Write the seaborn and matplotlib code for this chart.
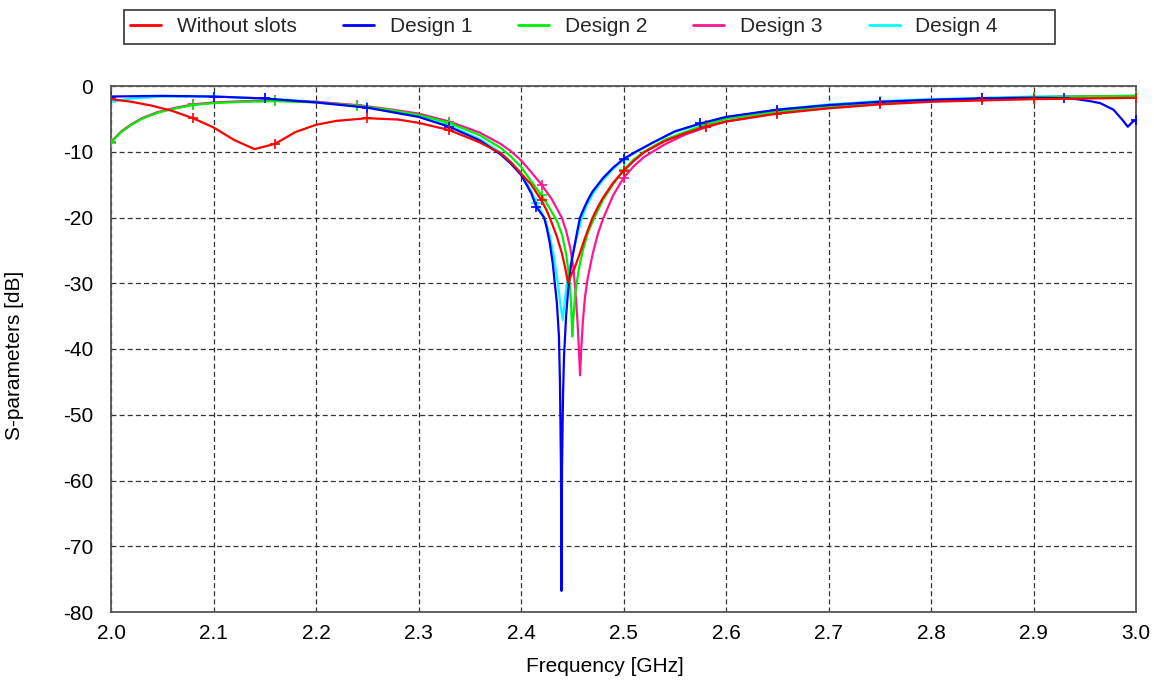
import numpy as np
import pandas as pd
import matplotlib
matplotlib.use("Agg")
import matplotlib.pyplot as plt
from matplotlib.patches import Rectangle
from matplotlib.lines import Line2D
import seaborn as sns

# ---------------- data ----------------
labels = ["Without slots", "Design 1", "Design 2", "Design 3", "Design 4"]
colors = ["#ff0000", "#0000ff", "#00ee00", "#ff1493", "#00ffff"]

freq_red = [2.00, 2.02, 2.04, 2.06, 2.08, 2.10, 2.12, 2.14, 2.16, 2.18, 2.20, 2.22, 2.25,
            2.28, 2.30, 2.33, 2.36, 2.38, 2.39, 2.40, 2.41, 2.42, 2.425, 2.43, 2.435,
            2.44, 2.443, 2.446, 2.449, 2.452, 2.455, 2.458, 2.462, 2.466, 2.47, 2.475,
            2.48, 2.49, 2.50, 2.51, 2.52, 2.54, 2.56, 2.58, 2.60, 2.65, 2.70,
            2.75, 2.80, 2.85, 2.90, 2.95, 3.00]
s_red = [-2.0, -2.4, -3.0, -3.8, -4.9, -6.3, -8.2, -9.6, -8.8, -7.0, -5.9, -5.3, -4.9,
         -5.1, -5.6, -6.7, -8.6, -10.2, -11.6, -13.3, -15.0, -17.4, -18.9, -20.8, -22.9,
         -25.5, -27.6, -30.0, -28.7, -27.8, -26.5, -25.2, -23.3, -21.6, -20.0, -18.4,
         -17.0, -14.7, -12.9, -11.4, -10.1, -8.4, -7.2, -6.2, -5.4, -4.2, -3.4,
         -2.8, -2.4, -2.2, -2.0, -1.9, -1.8]

freq_d1 = [2.00, 2.05, 2.10, 2.15, 2.20, 2.25, 2.30, 2.33, 2.36, 2.38, 2.39, 2.40, 2.41,
           2.415, 2.4225, 2.425, 2.428, 2.431, 2.433, 2.435, 2.437, 2.438, 2.439,
           2.4395, 2.440, 2.441, 2.442, 2.444, 2.446, 2.449, 2.452, 2.455, 2.4576,
           2.462, 2.466, 2.47, 2.48, 2.49, 2.50, 2.512, 2.53, 2.55, 2.575, 2.60, 2.65,
           2.70, 2.75, 2.80, 2.85, 2.90, 2.93, 2.942, 2.955, 2.965, 2.978, 2.987,
           2.992, 2.997, 3.00]
s_d1 = [-1.6, -1.5, -1.6, -1.9, -2.5, -3.3, -4.7, -6.2, -8.3, -10.4, -11.8, -13.5, -16.3,
        -18.4, -20.0, -21.5, -23.8, -27.0, -30.0, -33.0, -38.0, -45.0, -58.0,
        -76.8, -58.0, -47.0, -41.0, -35.0, -31.0, -27.0, -24.5, -22.0, -20.0,
        -18.4, -17.1, -16.0, -14.0, -12.4, -11.1, -10.0, -8.5, -6.9, -5.7, -4.7, -3.6,
        -2.9, -2.4, -2.1, -1.9, -1.8, -1.85, -2.0, -2.3, -2.6, -3.6, -5.2,
        -6.2, -5.4, -5.2]

freq_d2 = [2.00, 2.01, 2.02, 2.03, 2.045, 2.06, 2.08, 2.10, 2.13, 2.16, 2.20, 2.24,
           2.27, 2.30, 2.33, 2.36, 2.38, 2.39, 2.40, 2.41, 2.42, 2.428, 2.435, 2.44,
           2.444, 2.447, 2.449, 2.450, 2.451, 2.453, 2.456, 2.46, 2.465, 2.4715, 2.48,
           2.49, 2.50, 2.51, 2.52, 2.54, 2.56, 2.58, 2.60, 2.65, 2.70, 2.75, 2.80,
           2.85, 2.90, 2.95, 3.00]
s_d2 = [-8.6, -7.0, -5.9, -5.0, -4.1, -3.5, -2.9, -2.6, -2.4, -2.3, -2.5, -3.0,
        -3.6, -4.4, -5.6, -7.5, -9.4, -10.7, -12.3, -14.5, -16.6, -18.6, -20.5, -22.6,
        -25.5, -29.0, -33.5, -38.1, -35.5, -31.5, -28.2, -25.2, -22.4, -20.0, -17.3,
        -14.9, -12.8, -11.2, -10.0, -8.2, -7.0, -5.9, -5.0, -3.9, -3.1, -2.5, -2.1,
        -1.9, -1.7, -1.6, -1.5]

freq_d3 = [2.00, 2.01, 2.02, 2.03, 2.045, 2.06, 2.08, 2.10, 2.13, 2.16, 2.20, 2.24,
           2.27, 2.30, 2.33, 2.36, 2.38, 2.39, 2.40, 2.41, 2.42, 2.43, 2.4397, 2.444,
           2.448, 2.451, 2.453, 2.455, 2.4565, 2.4576, 2.4588, 2.4605, 2.4625, 2.465,
           2.47, 2.475, 2.48, 2.49, 2.50, 2.51, 2.52, 2.54, 2.56, 2.58, 2.60, 2.65,
           2.70, 2.75, 2.80, 2.85, 2.90, 2.95, 3.00]
s_d3 = [-8.5, -6.9, -5.8, -4.9, -4.0, -3.4, -2.8, -2.5, -2.3, -2.2, -2.4, -2.9,
        -3.5, -4.2, -5.4, -7.1, -8.8, -9.9, -11.3, -13.1, -15.0, -17.2, -20.0, -22.0,
        -24.6, -27.5, -31.0, -35.5, -40.0, -44.0, -40.0, -35.5, -32.0, -29.3,
        -25.5, -22.5, -20.2, -16.6, -14.0, -12.2, -10.8, -8.9, -7.4, -6.3, -5.4, -4.1,
        -3.2, -2.6, -2.2, -1.9, -1.7, -1.6, -1.5]

freq_d4 = [2.00, 2.02, 2.05, 2.10, 2.15, 2.20, 2.25, 2.30, 2.33, 2.36, 2.38, 2.39,
           2.40, 2.41, 2.415, 2.42, 2.424, 2.428, 2.432, 2.436, 2.4385, 2.4407,
           2.4425, 2.4445, 2.447, 2.451, 2.455, 2.459, 2.464, 2.47, 2.48, 2.49, 2.50,
           2.515, 2.53, 2.55, 2.575, 2.60, 2.65, 2.70, 2.75, 2.80, 2.85, 2.90, 2.95,
           3.00]
s_d4 = [-2.4, -1.9, -1.6, -1.6, -1.9, -2.4, -3.2, -4.6, -6.0, -8.1, -10.1, -11.5,
        -13.2, -16.0, -17.8, -19.2, -20.5, -22.8, -25.8, -30.0, -33.3, -35.6,
        -33.0, -30.3, -28.0, -25.2, -22.6, -20.3, -18.2, -16.4, -14.3, -12.6, -11.2,
        -9.8, -8.5, -7.0, -5.8, -4.8, -3.6, -2.8, -2.3, -2.0, -1.8, -1.6, -1.55,
        -1.5]

x_ticks = [2.0, 2.1, 2.2, 2.3, 2.4, 2.5, 2.6, 2.7, 2.8, 2.9, 3.0]
y_ticks = [0, -10, -20, -30, -40, -50, -60, -70, -80]
x_label = "Frequency [GHz]"
y_label = "S-parameters [dB]"

series = [(freq_red, s_red), (freq_d1, s_d1), (freq_d2, s_d2), (freq_d3, s_d3), (freq_d4, s_d4)]

# ---------------- styling ----------------
sns.set_theme(style="white")
plt.rcParams["font.family"] = ["Liberation Sans", "DejaVu Sans"]
plt.rcParams["axes.unicode_minus"] = False

W, H = 1154, 691
fig = plt.figure(figsize=(W / 100, H / 100), dpi=100)
L, R, T, B = 111, 1136, 86, 612
ax = fig.add_axes([L / W, 1 - B / H, (R - L) / W, (B - T) / H])

frames = []
for lab, (f, s) in zip(labels, series):
    frames.append(pd.DataFrame({"f": f, "s": s, "label": lab}))
df = pd.concat(frames, ignore_index=True)

draw_order = [4, 3, 2, 1, 0]  # cyan bottom ... red on top
zorders = {4: 2, 3: 3, 2: 4, 1: 5, 0: 6}
for i in draw_order:
    sub = df[df["label"] == labels[i]]
    fr = np.asarray(sub["f"])
    marks = sorted({int(np.argmin(np.abs(fr - m))) for m in np.arange(2.0, 3.0001, 1 / 12)})
    sns.lineplot(data=sub, x="f", y="s", ax=ax, color=colors[i], lw=1.6,
                 estimator=None, sort=False, zorder=zorders[i],
                 marker="+", markevery=marks, markersize=7, markeredgewidth=1.2,
                 markeredgecolor=colors[i])

ax.set_xlim(2.0, 3.0)
ax.set_ylim(-80, 0)
ax.set_xticks(x_ticks)
ax.set_xticklabels([f"{v:.1f}" for v in x_ticks])
ax.set_yticks(y_ticks)
ax.set_yticklabels([str(v) for v in y_ticks])
ax.tick_params(axis="both", length=0, labelsize=15, colors="black")
ax.tick_params(axis="x", pad=8.5)
ax.tick_params(axis="y", pad=13)

ax.grid(True, linestyle=(0, (4, 2.5)), color="#333333", lw=0.9, zorder=1)
ax.set_axisbelow(True)
for sp in ax.spines.values():
    sp.set_color("#555555")
    sp.set_linewidth(1.3)
    sp.set_visible(True)

ax.set_xlabel(x_label, fontsize=15, color="black")
ax.set_ylabel(y_label, fontsize=15, color="black")
ax.xaxis.set_label_coords((605 - L) / (R - L), 1 - (672 - T) / (B - T))
ax.yaxis.set_label_coords((24 - L) / (R - L), (B - 355) / (B - T))
ax.xaxis.label.set_va("baseline")

# ---------------- legend ----------------
handles = [Line2D([], [], color=c, lw=2) for c in colors]
lx0, lx1, ly0, ly1 = 124, 1055, 10, 44
leg = fig.legend(handles, labels, ncol=5, mode="expand", frameon=False,
                 loc="center left",
                 bbox_to_anchor=(128 / W, 1 - ly1 / H, (1000 - 128) / W, (ly1 - ly0) / H),
                 fontsize=15, handlelength=1.5, handletextpad=0.75,
                 borderpad=0.1, borderaxespad=0)
fig.patches.append(Rectangle((lx0 / W, 1 - ly1 / H), (lx1 - lx0) / W, (ly1 - ly0) / H,
                             transform=fig.transFigure, fill=False,
                             edgecolor="#444444", lw=1.3))

fig.savefig("out.png", dpi=100)
